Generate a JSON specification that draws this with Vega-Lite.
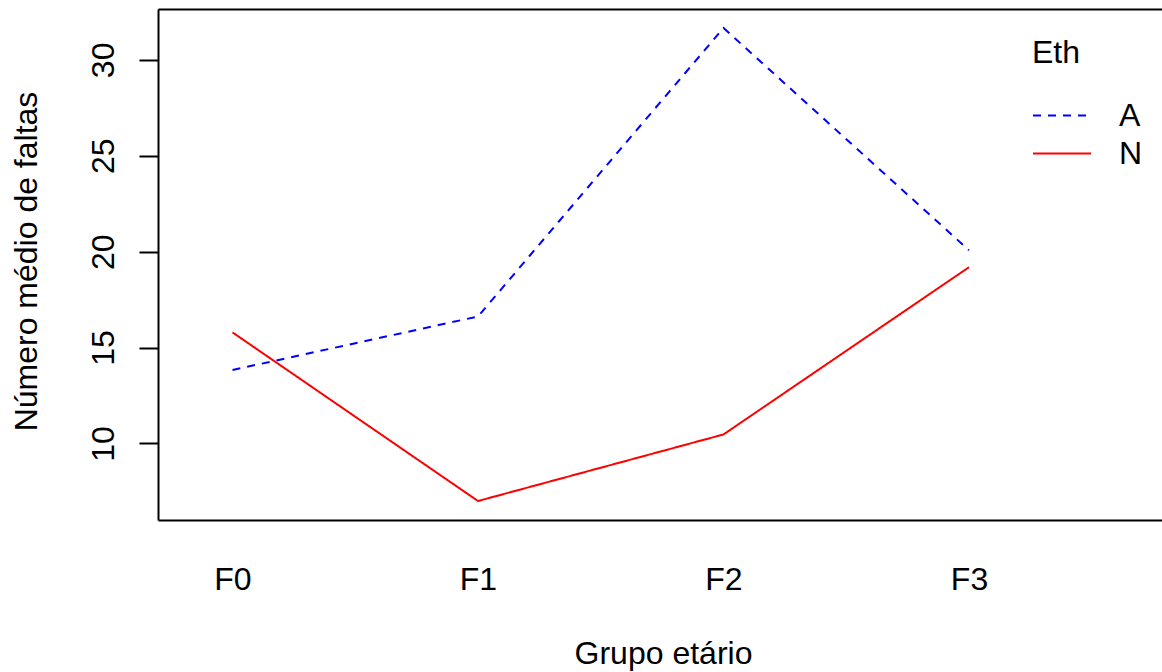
{
  "$schema": "https://vega.github.io/schema/vega-lite/v6.json",
  "width": 1004,
  "height": 511,
  "autosize": {"type": "none"},
  "padding": {"left": 158, "top": 9, "right": 0, "bottom": 152},
  "background": "white",
  "config": {
    "view": {"stroke": null},
    "font": "Liberation Sans",
    "axis": {
      "grid": false,
      "labelFont": "Liberation Sans",
      "labelFontSize": 32,
      "labelColor": "black",
      "titleFont": "Liberation Sans",
      "titleFontSize": 32,
      "titleFontWeight": "normal",
      "titleColor": "black",
      "domainColor": "black",
      "domainWidth": 2,
      "tickColor": "black",
      "tickWidth": 2,
      "labelOverlap": false,
      "labelFlush": false
    }
  },
  "data": {
    "values": [
      {"grupo": "F0", "eth": "A", "faltas": 13.83},
      {"grupo": "F1", "eth": "A", "faltas": 16.62},
      {"grupo": "F2", "eth": "A", "faltas": 31.66},
      {"grupo": "F3", "eth": "A", "faltas": 20.07},
      {"grupo": "F0", "eth": "N", "faltas": 15.79},
      {"grupo": "F1", "eth": "N", "faltas": 7.0},
      {"grupo": "F2", "eth": "N", "faltas": 10.47},
      {"grupo": "F3", "eth": "N", "faltas": 19.19}
    ]
  },
  "layer": [
    {
      "mark": {"type": "line", "strokeWidth": 2},
      "encoding": {
        "x": {
          "field": "grupo",
          "type": "ordinal",
          "scale": {"type": "point", "domain": ["F0", "F1", "F2", "F3"], "padding": 0.5448, "align": 0.2785},
          "axis": {
            "orient": "bottom",
            "ticks": false,
            "tickSize": 0,
            "labelAngle": 0,
            "labelAlign": "center",
            "labelBaseline": "alphabetic",
            "labelPadding": 69,
            "title": "Grupo etário",
            "titleX": 505,
            "titleY": 143,
            "titleAlign": "center",
            "titleBaseline": "alphabetic"
          }
        },
        "y": {
          "field": "faltas",
          "type": "quantitative",
          "scale": {"domain": [6.01, 32.65], "nice": false, "zero": false},
          "axis": {
            "values": [10, 15, 20, 25, 30],
            "tickSize": 19,
            "labelAngle": -90,
            "labelAlign": "center",
            "labelBaseline": "alphabetic",
            "labelPadding": 26,
            "title": "Número médio de faltas",
            "titleAngle": -90,
            "titleX": -122,
            "titleY": 252,
            "titleAlign": "center",
            "titleBaseline": "alphabetic"
          }
        },
        "color": {
          "field": "eth",
          "type": "nominal",
          "scale": {"domain": ["A", "N"], "range": ["#0000ff", "#ff0000"]},
          "legend": {
            "title": "Eth",
            "orient": "none",
            "legendX": 874,
            "legendY": 29,
            "titleFont": "Liberation Sans",
            "titleFontSize": 32,
            "titleFontWeight": "normal",
            "titleColor": "black",
            "titlePadding": 26.5,
            "labelFont": "Liberation Sans",
            "labelFontSize": 32,
            "labelColor": "black",
            "labelOffset": 27,
            "symbolType": "stroke",
            "symbolSize": 3364,
            "symbolStrokeWidth": 2,
            "clipHeight": 38,
            "rowPadding": 0
          }
        },
        "strokeDash": {
          "field": "eth",
          "type": "nominal",
          "scale": {"domain": ["A", "N"], "range": [[8, 7], [1, 0]]},
          "legend": {
            "title": "Eth",
            "orient": "none",
            "legendX": 874,
            "legendY": 29,
            "titleFont": "Liberation Sans",
            "titleFontSize": 32,
            "titleFontWeight": "normal",
            "titleColor": "black",
            "titlePadding": 26.5,
            "labelFont": "Liberation Sans",
            "labelFontSize": 32,
            "labelColor": "black",
            "labelOffset": 27,
            "symbolType": "stroke",
            "symbolSize": 3364,
            "symbolStrokeWidth": 2,
            "clipHeight": 38,
            "rowPadding": 0
          }
        }
      }
    },
    {
      "mark": {"type": "point", "opacity": 0},
      "encoding": {
        "x": {
          "field": "grupo",
          "type": "ordinal",
          "axis": {"orient": "top", "ticks": false, "labels": false, "title": null}
        }
      }
    }
  ],
  "resolve": {"axis": {"x": "independent"}}
}
